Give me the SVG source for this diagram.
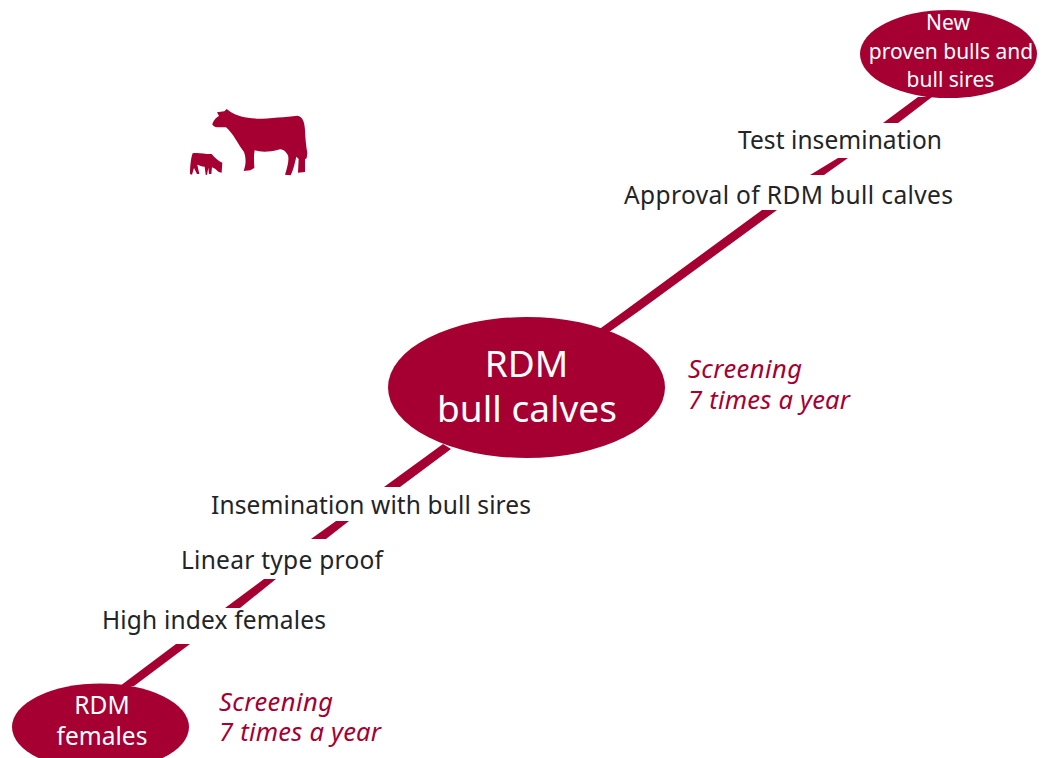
<svg xmlns="http://www.w3.org/2000/svg" width="1044" height="758" viewBox="0 0 1044 758">
<style>
.r{fill:#a60032}
text{font-family:"Noto Sans","Open Sans","Liberation Sans",sans-serif}
.k{fill:#222426;font-size:24.5px}
.w{fill:#fff;text-anchor:middle}
.s{fill:#a60032;font-size:25.5px;font-style:italic}
</style>
<g id="connectors" class="r">
<polygon points="918,97 932,97 898,123 883,123"/>
<polygon points="838,158 848,158 824,175 810,175"/>
<polygon points="762,210 777,210 639,311 602,337 594,333 623,312"/>
<polygon points="443,444 451,449 400,487 384,487"/>
<polygon points="336,521 349,521 326,539 311,539"/>
<polygon points="264,579 276,579 240,608 225,608"/>
<polygon points="176,644 190,644 134,686 120,686"/>
</g>
<g id="cows" class="r">
<path transform="translate(170 90) scale(.3333)" d="M127 104 C128 95 136 84 147 78 L141 67 L163 64 L170 57 L182 66 C200 77 225 84 260 86 C300 86 350 80 382 77 C398 79 404 96 405 120 C406 145 408 165 412 190 L410 205 L405 208 L405 246 L384 248 L386 207 L379 200 C374 222 368 245 362 256 L345 254 C352 232 358 212 354 196 C345 180 335 174 322 180 C300 186 272 187 254 181 C250 200 253 220 253 234 L241 241 L221 243 C229 222 228 202 222 186 C205 165 190 130 168 112 C155 110 135 116 127 104Z"/>
<path transform="translate(170 90) scale(.3333)" d="M68 190 C85 186 110 194 125 192 C135 205 148 215 157 218 L155 248 L146 246 C138 238 132 234 126 232 L124 252 L117 252 L115 233 L111 255 L107 254 L104 230 C95 230 88 226 82 224 L88 252 L81 252 L72 234 L66 254 L60 252 C60 235 62 205 68 190Z"/>
</g>
<g id="new-proven-bulls">
<ellipse class="r" cx="948.500" cy="54" rx="88.500" ry="44"/>
<text class="w" font-size="21" x="948" y="30">New</text>
<text class="w" font-size="21" x="951" y="59">proven bulls and</text>
<text class="w" font-size="21" x="950.500" y="87">bull sires</text>
</g>
<g id="test-insemination"><text class="k" x="738" y="149" textLength="204">Test insemination</text></g>
<g id="approval"><text class="k" x="624" y="204" textLength="329">Approval of RDM bull calves</text></g>
<g id="rdm-bull-calves">
<ellipse class="r" cx="526.500" cy="387.500" rx="138.500" ry="70.500"/>
<text class="w" font-size="37" x="526.500" y="377">RDM</text>
<text class="w" font-size="37" x="527" y="422">bull calves</text>
</g>
<g id="screening-upper"><text class="s" x="688" y="378" textLength="114">Screening</text><text class="s" x="688" y="409" textLength="162">7 times a year</text></g>
<g id="insemination-bull-sires"><text class="k" x="211" y="514" textLength="320">Insemination with bull sires</text></g>
<g id="linear-type-proof"><text class="k" x="181" y="569" textLength="202">Linear type proof</text></g>
<g id="high-index-females"><text class="k" x="102" y="629" textLength="224">High index females</text></g>
<g id="rdm-females">
<ellipse class="r" cx="100.500" cy="727" rx="88.500" ry="43.500"/>
<text class="w" font-size="24.500" x="102" y="714">RDM</text>
<text class="w" font-size="24.500" x="102" y="745">females</text>
</g>
<g id="screening-lower"><text class="s" x="219" y="711" textLength="114">Screening</text><text class="s" x="219" y="741" textLength="162">7 times a year</text></g>
</svg>
